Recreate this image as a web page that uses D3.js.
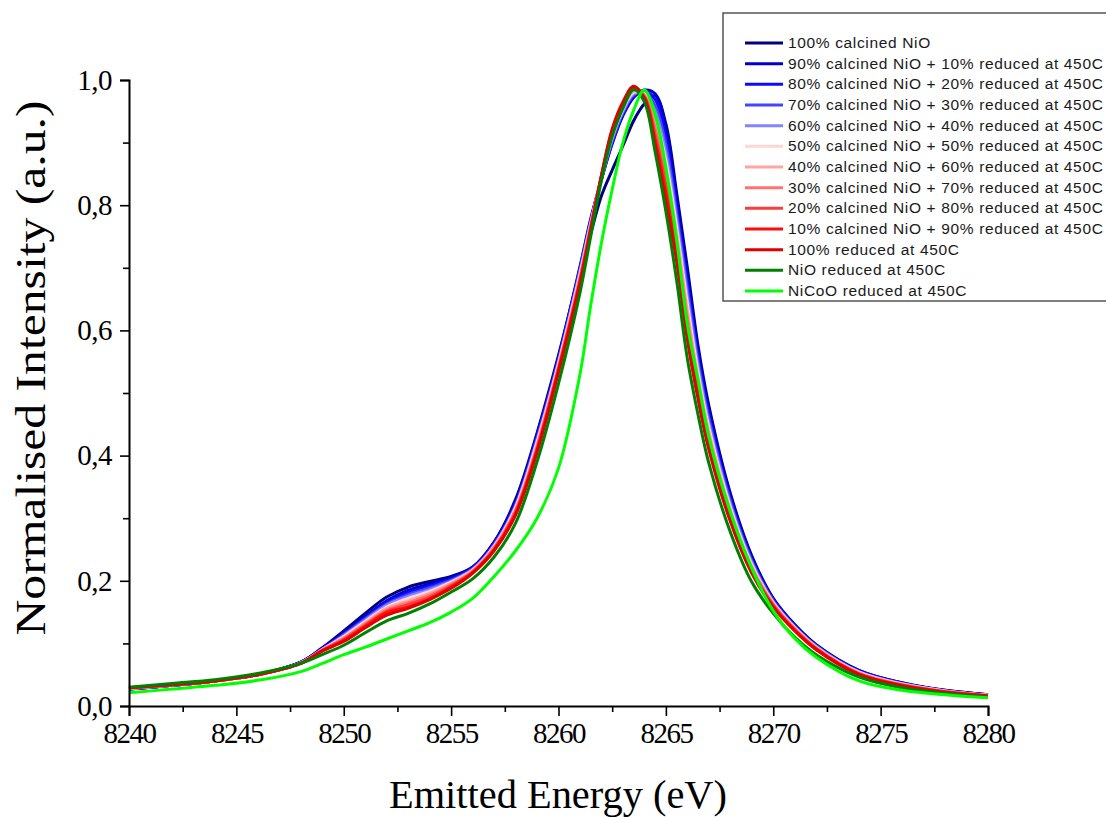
<!DOCTYPE html>
<html><head><meta charset="utf-8">
<script src="https://cdn.jsdelivr.net/npm/d3@7"></script>
<style>
html,body{margin:0;padding:0;background:#fff;}
svg{display:block;}
</style></head>
<body>
<svg id="chart" width="1106" height="817"></svg>
<script>
// ---- data ----
const energy = [8240,8242,8244,8246,8248,8249,8250,8251,8252,8253,8254,8255,8256,8257,8258,8259,8260,8261,8261.5,8262,8262.5,8263,8263.5,8264,8264.5,8265,8265.5,8266,8266.5,8267,8268,8269,8270,8271,8272,8274,8276,8278,8280];

const seriesNames = [
  "100% calcined NiO",
  "90% calcined NiO + 10% reduced at 450C",
  "80% calcined NiO + 20% reduced at 450C",
  "70% calcined NiO + 30% reduced at 450C",
  "60% calcined NiO + 40% reduced at 450C",
  "50% calcined NiO + 50% reduced at 450C",
  "40% calcined NiO + 60% reduced at 450C",
  "30% calcined NiO + 70% reduced at 450C",
  "20% calcined NiO + 80% reduced at 450C",
  "10% calcined NiO + 90% reduced at 450C",
  "100% reduced at 450C",
  "NiO reduced at 450C",
  "NiCoO reduced at 450C"
];
const seriesColors = ["#000080","#0000cc","#0a0aff","#4545ff","#8585ff","#ffd6d6","#ffa3a3","#ff7272","#ff3c3c","#ff0a0a","#e00000","#008000","#00ff00"];

const calc100 = [0.027,0.033,0.040,0.050,0.070,0.093,0.120,0.148,0.174,0.190,0.199,0.207,0.222,0.262,0.330,0.436,0.560,0.695,0.755,0.815,0.856,0.895,0.935,0.962,0.975,0.930,0.820,0.700,0.575,0.480,0.340,0.240,0.172,0.130,0.098,0.057,0.037,0.025,0.018];
const calc90 = [0.027,0.033,0.040,0.050,0.070,0.092,0.117,0.143,0.168,0.185,0.195,0.205,0.221,0.261,0.326,0.433,0.557,0.702,0.778,0.841,0.898,0.943,0.972,0.984,0.978,0.922,0.809,0.689,0.567,0.473,0.336,0.237,0.171,0.129,0.097,0.056,0.037,0.025,0.018];
const calc80 = [0.027,0.033,0.040,0.050,0.070,0.091,0.115,0.141,0.166,0.181,0.192,0.203,0.220,0.259,0.323,0.430,0.555,0.699,0.776,0.842,0.900,0.945,0.974,0.982,0.969,0.909,0.798,0.677,0.558,0.466,0.331,0.234,0.169,0.128,0.096,0.056,0.036,0.024,0.018];
const calc70 = [0.028,0.033,0.040,0.050,0.069,0.091,0.114,0.139,0.163,0.178,0.189,0.201,0.219,0.258,0.321,0.427,0.552,0.696,0.774,0.842,0.903,0.948,0.976,0.981,0.959,0.896,0.787,0.666,0.550,0.459,0.327,0.232,0.168,0.127,0.096,0.055,0.036,0.024,0.017];
const calc60 = [0.028,0.033,0.040,0.050,0.069,0.090,0.112,0.137,0.161,0.175,0.186,0.199,0.218,0.256,0.319,0.424,0.549,0.693,0.772,0.843,0.906,0.950,0.978,0.979,0.950,0.883,0.776,0.654,0.541,0.452,0.322,0.229,0.166,0.126,0.095,0.054,0.035,0.024,0.017];
const calc50 = [0.028,0.034,0.040,0.050,0.069,0.090,0.111,0.135,0.158,0.172,0.183,0.198,0.217,0.255,0.317,0.421,0.547,0.690,0.770,0.844,0.909,0.953,0.980,0.978,0.941,0.871,0.765,0.643,0.533,0.445,0.318,0.226,0.165,0.125,0.094,0.054,0.035,0.024,0.017];
const calc40 = [0.028,0.034,0.040,0.050,0.069,0.090,0.109,0.133,0.156,0.168,0.180,0.196,0.216,0.254,0.314,0.417,0.544,0.686,0.768,0.845,0.911,0.955,0.982,0.976,0.932,0.858,0.754,0.631,0.524,0.438,0.313,0.223,0.164,0.124,0.093,0.053,0.034,0.023,0.017];
const calc30 = [0.028,0.034,0.040,0.050,0.069,0.089,0.108,0.131,0.153,0.165,0.177,0.194,0.215,0.252,0.312,0.414,0.541,0.683,0.766,0.846,0.914,0.958,0.984,0.975,0.923,0.845,0.743,0.620,0.516,0.431,0.309,0.220,0.162,0.123,0.092,0.052,0.034,0.023,0.017];
const calc20 = [0.029,0.034,0.040,0.050,0.068,0.089,0.106,0.129,0.151,0.162,0.174,0.192,0.214,0.251,0.310,0.411,0.538,0.680,0.764,0.846,0.917,0.960,0.986,0.973,0.913,0.832,0.732,0.608,0.507,0.424,0.304,0.218,0.161,0.122,0.092,0.051,0.033,0.023,0.016];
const calc10 = [0.029,0.034,0.040,0.050,0.068,0.088,0.105,0.127,0.149,0.158,0.171,0.190,0.213,0.249,0.307,0.408,0.536,0.677,0.762,0.847,0.919,0.963,0.988,0.972,0.904,0.819,0.721,0.597,0.499,0.417,0.300,0.215,0.159,0.121,0.091,0.051,0.033,0.022,0.016];
const reduced100 = [0.029,0.034,0.040,0.050,0.068,0.088,0.103,0.125,0.145,0.156,0.170,0.188,0.212,0.248,0.305,0.405,0.533,0.674,0.760,0.848,0.922,0.965,0.990,0.970,0.895,0.806,0.710,0.585,0.490,0.410,0.295,0.212,0.158,0.120,0.090,0.050,0.032,0.022,0.016];
const nioReduced = [0.030,0.036,0.042,0.052,0.068,0.082,0.097,0.117,0.136,0.148,0.163,0.182,0.203,0.238,0.292,0.390,0.515,0.660,0.750,0.840,0.910,0.955,0.985,0.965,0.885,0.790,0.680,0.555,0.465,0.388,0.278,0.198,0.148,0.110,0.082,0.046,0.029,0.020,0.014];
const nicooReduced = [0.021,0.027,0.033,0.041,0.055,0.068,0.082,0.094,0.107,0.120,0.133,0.150,0.172,0.207,0.248,0.300,0.380,0.530,0.640,0.740,0.825,0.900,0.952,0.984,0.945,0.860,0.745,0.610,0.520,0.430,0.310,0.220,0.152,0.108,0.078,0.040,0.025,0.018,0.013];

const seriesValues = [calc100,calc90,calc80,calc70,calc60,calc50,calc40,calc30,calc20,calc10,reduced100,nioReduced,nicooReduced];

const xTicks = [8240,8245,8250,8255,8260,8265,8270,8275,8280];
const yTicks = [0.0,0.2,0.4,0.6,0.8,1.0];

// ---- layout ----
const svg = d3.select("#chart");
const x = d3.scaleLinear().domain([8240,8280]).range([129,988]);
const y = d3.scaleLinear().domain([0,1]).range([706,80]);

const serif = "'Liberation Serif','Times New Roman',serif";
const sans = "'Liberation Sans',Arial,sans-serif";

// curves
const line = d3.line().x((d,i)=>x(energy[i])).y(d=>y(d)).curve(d3.curveCatmullRom.alpha(0.5));
svg.append("g").selectAll("path").data(seriesValues).join("path")
  .attr("d", d=>line(d))
  .attr("fill","none")
  .attr("stroke",(d,i)=>seriesColors[i])
  .attr("stroke-width",3)
  .attr("stroke-linejoin","round");

// axes
const fmt = d=>d3.format(".1f")(d).replace(".",",");
const xAxis = d3.axisBottom(x).tickValues(xTicks).tickSize(10).tickPadding(6).tickFormat(d3.format("d"));
const xMinor = d3.axisBottom(x).tickValues(d3.range(8242.5,8280,5)).tickSize(6).tickFormat("");
const yAxis = d3.axisLeft(y).tickValues(yTicks).tickSize(9).tickPadding(8).tickFormat(fmt);
const yMinor = d3.axisLeft(y).tickValues([0.1,0.3,0.5,0.7,0.9]).tickSize(6).tickFormat("");

function styleAxis(g){
  g.select(".domain").attr("stroke","#000").attr("stroke-width",2);
  g.selectAll(".tick line").attr("stroke","#000").attr("stroke-width",1.6);
}
const gx = svg.append("g").attr("transform","translate(0,706)").call(xAxis).call(styleAxis);
gx.selectAll("text").attr("font-family",serif).attr("font-size",29).attr("fill","#000")
  .attr("letter-spacing","-1.5px");
svg.append("g").attr("transform","translate(0,706)").call(xMinor).call(styleAxis).select(".domain").remove();
const gy = svg.append("g").attr("transform","translate(129,0)").call(yAxis).call(styleAxis);
gy.selectAll("text").attr("font-family",serif).attr("font-size",29).attr("fill","#000")
  .attr("letter-spacing","-0.5px");
svg.append("g").attr("transform","translate(129,0)").call(yMinor).call(styleAxis).select(".domain").remove();

// axis titles
svg.append("text").attr("x",558).attr("y",808).attr("text-anchor","middle")
  .attr("font-family",serif).attr("font-size",40).attr("fill","#000")
  .attr("textLength",338).attr("lengthAdjust","spacingAndGlyphs")
  .text("Emitted Energy (eV)");
svg.append("text").attr("transform","translate(45,368) rotate(-90)").attr("text-anchor","middle")
  .attr("font-family",serif).attr("font-size",42).attr("fill","#000")
  .attr("textLength",535).attr("lengthAdjust","spacingAndGlyphs")
  .text("Normalised Intensity (a.u.)");

// legend
const lg = svg.append("g");
lg.append("rect").attr("x",723).attr("y",13).attr("width",400).attr("height",288)
  .attr("fill","#fff").attr("stroke","#555").attr("stroke-width",1.5);
const rowY = d3.scaleLinear().domain([0,12]).range([43,291]);
seriesNames.forEach((name,i)=>{
  lg.append("line").attr("x1",745).attr("x2",783).attr("y1",rowY(i)).attr("y2",rowY(i))
    .attr("stroke",seriesColors[i]).attr("stroke-width",3);
  lg.append("text").attr("x",788).attr("y",rowY(i)+5).attr("font-family",sans)
    .attr("font-size",15.5).attr("letter-spacing","0.65px").attr("fill","#1a1a1a").text(name);
});
</script>
</body></html>
